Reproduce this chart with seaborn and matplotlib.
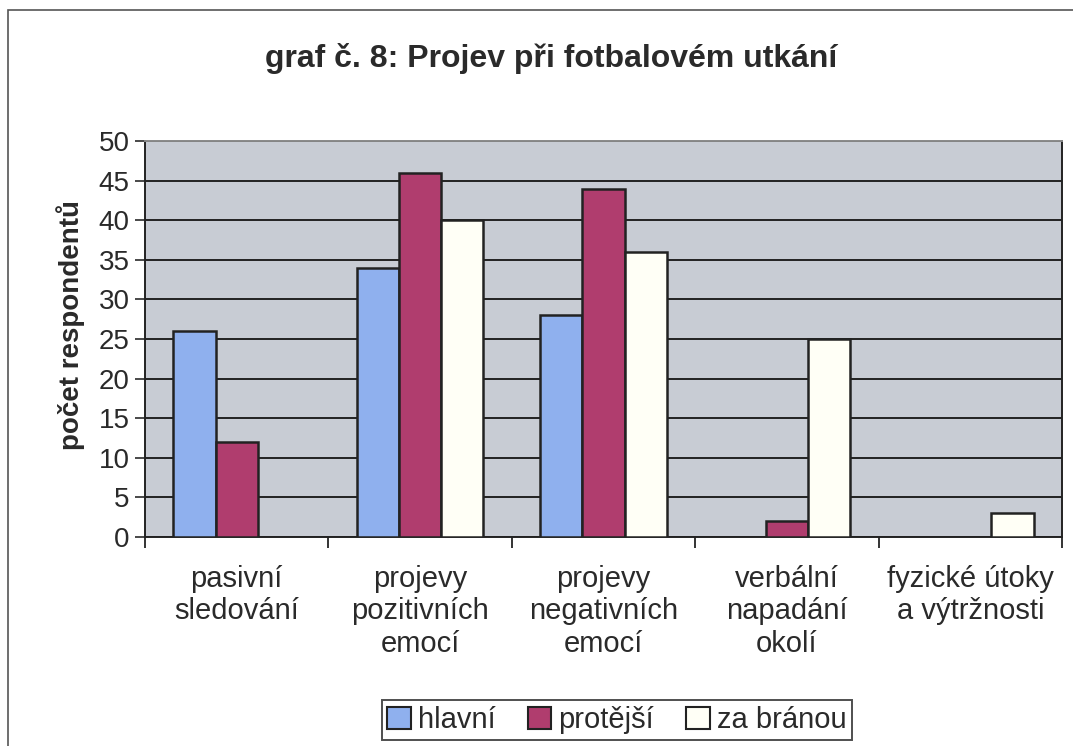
import matplotlib
matplotlib.use("Agg")
import matplotlib.pyplot as plt
import seaborn as sns
import pandas as pd
from matplotlib.patches import Rectangle, Patch
from matplotlib.ticker import FixedLocator, NullFormatter

categories = ["pasivní\nsledování", "projevy\npozitivních\nemocí", "projevy\nnegativních\nemocí",
              "verbální\nnapadání\nokolí", "fyzické útoky\na výtržnosti"]
series = ["hlavní", "protější", "za bránou"]
hlavni = [26, 34, 28, 0, 0]
protejsi = [12, 46, 44, 2, 0]
za_branou = [0, 40, 36, 25, 3]
colors = ["#8fb0ee", "#b03d6e", "#fffff6"]

rows = []
for s, vals in zip(series, [hlavni, protejsi, za_branou]):
    for c, v in zip(categories, vals):
        rows.append({"kategorie": c, "série": s, "hodnota": v})
df = pd.DataFrame(rows)

sns.set_style("white")
plt.rcParams["font.family"] = ["Liberation Sans", "DejaVu Sans"]
txt = "#2a2a2a"

fig = plt.figure(figsize=(10.73, 7.46), dpi=100)
ax = fig.add_axes([145 / 1073, 1 - 537 / 746, (1062 - 145) / 1073, (537 - 141) / 746])
ax.set_facecolor("#c8ccd4")

sns.barplot(data=df, x="kategorie", y="hodnota", hue="série", order=categories,
            hue_order=series, palette=colors, saturation=1, width=0.69, edgecolor="#222222",
            linewidth=1.8, ax=ax, legend=False, zorder=3)

ax.set_ylim(0, 50)
ax.set_xlim(-0.5, len(categories) - 0.5)
ax.set_yticks(range(0, 51, 5))
ax.yaxis.grid(True, color="#222222", linewidth=1.4, zorder=0)
ax.set_axisbelow(True)
ax.tick_params(axis="y", labelsize=20, length=7, width=1.2, direction="out", colors=txt, pad=4, left=True)
ax.tick_params(axis="x", which="major", length=0, labelsize=21, pad=20, labelcolor=txt)
ax.xaxis.set_minor_locator(FixedLocator([i - 0.5 for i in range(len(categories) + 1)]))
ax.xaxis.set_minor_formatter(NullFormatter())
ax.tick_params(axis="x", which="minor", length=8, width=1.2, direction="out", color="#111111", bottom=True)
ax.set_xlabel("")
ax.set_ylabel("počet respondentů", fontsize=20, fontweight="bold", color=txt)
ax.yaxis.set_label_coords(-0.065, 0.535)
for sp in ax.spines.values():
    sp.set_color("#222222")
    sp.set_linewidth(1.4)
    sp.set_visible(True)
ax.spines["top"].set_color("#888888")

fig.text(551 / 1073, 1 - 58 / 746, "graf č. 8: Projev při fotbalovém utkání", ha="center", va="center",
         fontsize=23, fontweight="bold", color=txt)

handles = [Patch(facecolor=c, edgecolor="#222222", linewidth=1.5) for c in colors]
leg = fig.legend(handles, series, loc="center", bbox_to_anchor=(617 / 1073, 1 - 720 / 746), ncol=3,
                 fontsize=21, frameon=True, fancybox=False, edgecolor="#222222", handlelength=0.8,
                 handleheight=0.8, handletextpad=0.25, columnspacing=1.1, borderpad=0.2,
                 borderaxespad=0)
for t in leg.get_texts():
    t.set_color(txt)
leg.get_frame().set_linewidth(1.4)

fig.patches.append(Rectangle((8 / 1073, -0.01), 1.1, 1 - 10 / 746 + 0.01, transform=fig.transFigure,
                             fill=False, edgecolor="#555555", linewidth=1.2))

fig.savefig("out.png", dpi=100)
